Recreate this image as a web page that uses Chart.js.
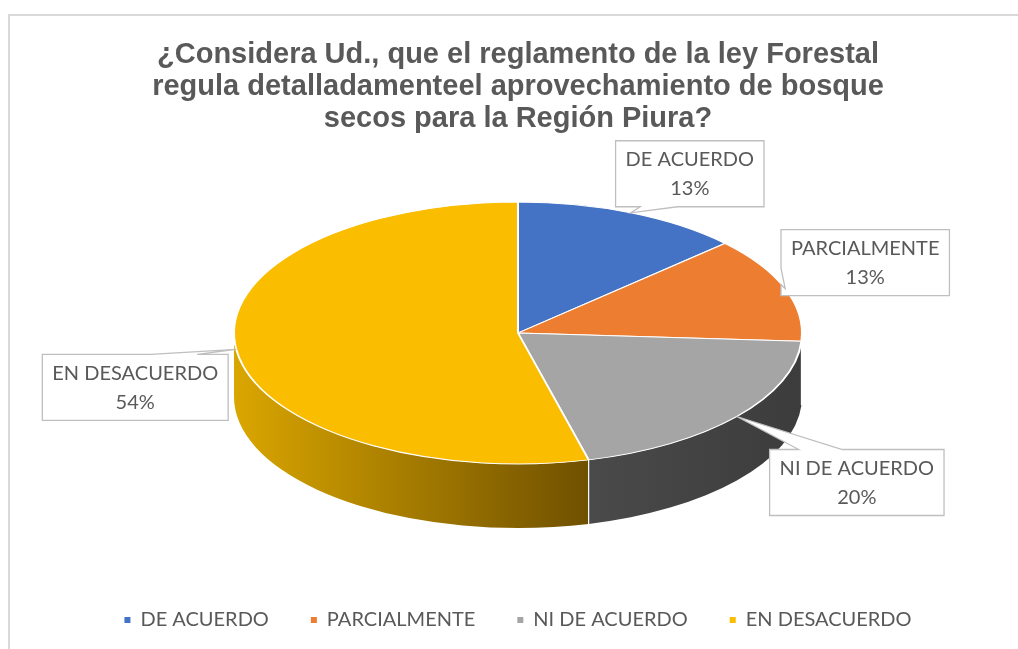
<!DOCTYPE html>
<html lang="es">
<head>
<meta charset="utf-8">
<title>Reglamento de la ley Forestal</title>
<script src="https://cdn.jsdelivr.net/npm/chart.js@4.4.1/dist/chart.umd.min.js"></script>
<style>
  html, body { margin: 0; padding: 0; background: #fff; overflow: hidden; }
  #wrap { position: relative; width: 1018px; height: 649px; }
</style>
</head>
<body>
<div id="wrap"><canvas id="chart"></canvas></div>
<script>
const titleLines = [
  '¿Considera Ud., que el reglamento de la ley Forestal',
  'regula detalladamenteel aprovechamiento de bosque',
  'secos para la Región Piura?'
];
const categories = ['DE ACUERDO', 'PARCIALMENTE', 'NI DE ACUERDO', 'EN DESACUERDO'];
const shares = [13, 13, 20, 54];

// look of the slices: top face, and side wall (left -> right shade)
const topColors = ['#4472c4', '#ec7d31', '#a5a5a5', '#fabd00'];
const sideColors = [
  ['#30538f', '#263f6d'],
  ['#b35d22', '#8c4518'],
  ['#4a4a4a', '#3c3c3c'],
  ['#daa600', '#6f5000']
];
// where each callout box sits, relative to the point it points at
const calloutOffsets = [[59, -39], [80, -26], [120, 66], [-101, 38]];

const PIE = { cy: 333, rx: 284, ry: 131, depth: 64 };
const TEXT = '#595959';
const LABEL_FONT = '20px Lato, "Open Sans", sans-serif';

function pieFrame(chart) {
  const arc = chart.getDatasetMeta(0).data[0];
  const r = arc.outerRadius;
  return { x: arc.x, y: arc.y, cx: arc.x, cy: PIE.cy, sx: PIE.rx / r, sy: PIE.ry / r };
}

// Excel style "wedge rect" callout outline
function wedgePath(ctx, l, t, w, h, tx, ty) {
  const dxPos = tx - (l + w / 2), dyPos = ty - (t + h / 2);
  const horiz = Math.abs(dxPos * h) > Math.abs(dyPos * w);
  const xa = l + w * (dxPos > 0 ? 7 : 2) / 12, xb = l + w * (dxPos > 0 ? 10 : 5) / 12;
  const ya = t + h * (dyPos > 0 ? 7 : 2) / 12, yb = t + h * (dyPos > 0 ? 10 : 5) / 12;
  ctx.beginPath();
  ctx.moveTo(l, t);
  if (!horiz && dyPos < 0) { ctx.lineTo(xa, t); ctx.lineTo(tx, ty); ctx.lineTo(xb, t); }
  ctx.lineTo(l + w, t);
  if (horiz && dxPos > 0) { ctx.lineTo(l + w, ya); ctx.lineTo(tx, ty); ctx.lineTo(l + w, yb); }
  ctx.lineTo(l + w, t + h);
  if (!horiz && dyPos > 0) { ctx.lineTo(xb, t + h); ctx.lineTo(tx, ty); ctx.lineTo(xa, t + h); }
  ctx.lineTo(l, t + h);
  if (horiz && dxPos < 0) { ctx.lineTo(l, yb); ctx.lineTo(tx, ty); ctx.lineTo(l, ya); }
  ctx.closePath();
}

const frameBorder = {
  id: 'frameBorder',
  beforeDraw(chart) {
    const ctx = chart.ctx;
    ctx.save();
    ctx.strokeStyle = '#d9d9d9';
    ctx.lineWidth = 2;
    ctx.beginPath();
    ctx.moveTo(9, chart.height);
    ctx.lineTo(9, 15);
    ctx.lineTo(chart.width, 15);
    ctx.stroke();
    ctx.restore();
  }
};

// tilts the pie: side wall first, then squash the arcs into an ellipse
const pie3d = {
  id: 'pie3d',
  beforeDatasetsDraw(chart) {
    const ctx = chart.ctx;
    const f = pieFrame(chart);
    const arcs = chart.getDatasetMeta(0).data;
    ctx.save();
    arcs.forEach((arc, i) => {
      const a1 = Math.max(arc.startAngle, 0), a2 = Math.min(arc.endAngle, Math.PI);
      if (a2 <= a1) return;
      const xl = f.cx + PIE.rx * Math.cos(a2), xr = f.cx + PIE.rx * Math.cos(a1);
      const grad = ctx.createLinearGradient(xl, 0, xr, 0);
      grad.addColorStop(0, sideColors[i][0]);
      grad.addColorStop(1, sideColors[i][1]);
      ctx.beginPath();
      ctx.ellipse(f.cx, f.cy, PIE.rx, PIE.ry, 0, a1, a2);
      ctx.ellipse(f.cx, f.cy + PIE.depth, PIE.rx, PIE.ry, 0, a2, a1, true);
      ctx.closePath();
      ctx.fillStyle = grad;
      ctx.fill();
    });
    // white seams where slices meet on the wall
    ctx.strokeStyle = '#fff';
    ctx.lineWidth = 1.2;
    arcs.forEach(arc => {
      const e = arc.endAngle;
      if (e <= 0 || e >= Math.PI) return;
      const x = f.cx + PIE.rx * Math.cos(e), y = f.cy + PIE.ry * Math.sin(e);
      ctx.beginPath();
      ctx.moveTo(x, y);
      ctx.lineTo(x, y + PIE.depth);
      ctx.stroke();
    });
    ctx.restore();

    ctx.save();
    ctx.translate(f.cx, f.cy);
    ctx.scale(f.sx, f.sy);
    ctx.translate(-f.x, -f.y);
  },
  afterDatasetsDraw(chart) {
    const ctx = chart.ctx;
    ctx.restore();

    const f = pieFrame(chart);
    const total = shares.reduce((a, b) => a + b, 0);
    ctx.save();
    ctx.font = LABEL_FONT;
    chart.getDatasetMeta(0).data.forEach((arc, i) => {
      const mid = (arc.startAngle + arc.endAngle) / 2;
      const tx = f.cx + PIE.rx * Math.cos(mid), ty = f.cy + PIE.ry * Math.sin(mid);
      const lines = [categories[i], Math.round(shares[i] / total * 100) + '%'];
      const w = Math.max(...lines.map(s => ctx.measureText(s).width)) + 20, h = 66;
      const bx = tx + calloutOffsets[i][0] - w / 2, by = ty + calloutOffsets[i][1] - h / 2;
      wedgePath(ctx, bx, by, w, h, tx, ty);
      ctx.fillStyle = '#fff';
      ctx.fill();
      ctx.strokeStyle = '#bfbfbf';
      ctx.lineWidth = 1.3;
      ctx.stroke();
      ctx.fillStyle = TEXT;
      ctx.textAlign = 'center';
      ctx.textBaseline = 'middle';
      ctx.fillText(lines[0], bx + w / 2, by + h / 2 - 14);
      ctx.fillText(lines[1], bx + w / 2, by + h / 2 + 15);
    });
    ctx.restore();
  }
};

new Chart(document.getElementById('chart'), {
  type: 'pie',
  data: {
    labels: categories,
    datasets: [{
      data: shares,
      backgroundColor: topColors,
      borderColor: '#ffffff',
      borderWidth: 1.5,
      clip: false
    }]
  },
  options: {
    responsive: true,
    maintainAspectRatio: false,
    animation: false,
    events: [],
    layout: { padding: { left: 18, right: 0, top: 0, bottom: 9 } },
    plugins: {
      title: {
        display: true,
        text: titleLines,
        color: TEXT,
        font: { family: '"Liberation Sans", Arial, sans-serif', size: 29, weight: 'bold', lineHeight: 1.11 },
        padding: { top: 39, bottom: 10 }
      },
      legend: {
        position: 'bottom',
        labels: {
          color: TEXT,
          font: { family: 'Lato, "Open Sans", sans-serif', size: 20 },
          boxWidth: 6,
          boxHeight: 6,
          padding: 42,
          generateLabels(chart) {
            return Chart.overrides.doughnut.plugins.legend.labels.generateLabels(chart)
              .map(item => Object.assign(item, { lineWidth: 0 }));
          }
        }
      },
      tooltip: { enabled: false }
    }
  },
  plugins: [frameBorder, pie3d]
});
</script>
</body>
</html>
